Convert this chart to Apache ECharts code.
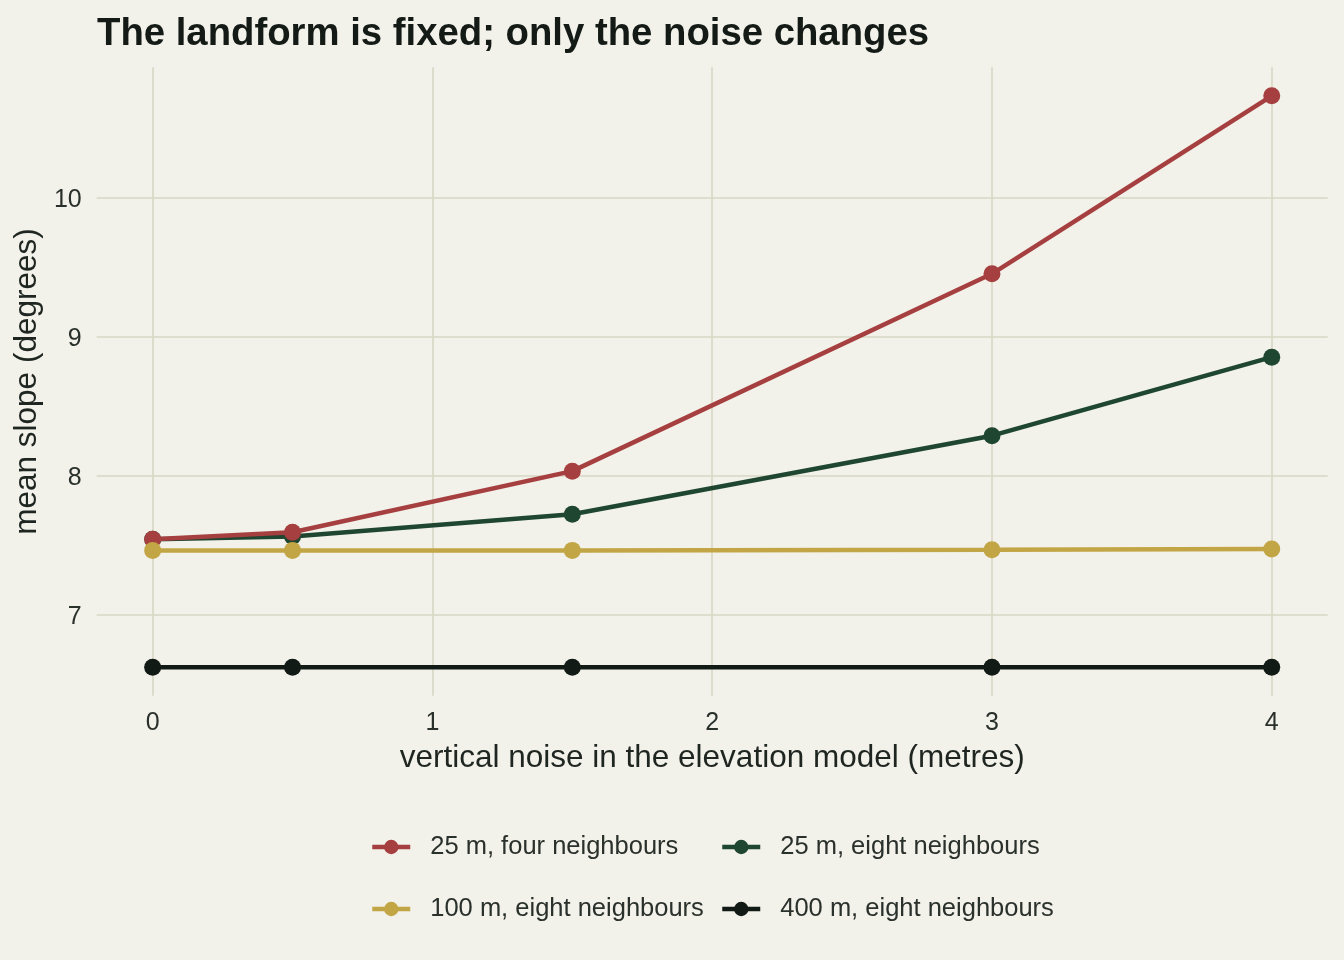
<!DOCTYPE html>
<html>
<head>
<meta charset="utf-8">
<script src="https://cdn.jsdelivr.net/npm/echarts@6/dist/echarts.min.js"></script>
<style>
  html, body { margin: 0; padding: 0; background: #f2f1ea; }
  #chart { width: 1344px; height: 960px; }
</style>
</head>
<body>
<div id="chart"></div>
<script>
// noise levels (metres) on the x axis
const noise = [0, 0.5, 1.5, 3, 4];

// mean slope (degrees) per DEM setup
const m25Four = [7.54, 7.59, 8.03, 9.45, 10.73];
const m25Eight = [7.54, 7.56, 7.72, 8.285, 8.85];
const m100Eight = [7.46, 7.46, 7.46, 7.465, 7.47];
const m400Eight = [6.62, 6.62, 6.62, 6.62, 6.62];

const seriesNames = [
    '25 m, four neighbours',
    '25 m, eight neighbours',
    '100 m, eight neighbours',
    '400 m, eight neighbours'
];

const xTicks = [0, 1, 2, 3, 4];
const yTicks = [7, 8, 9, 10];

const colors = ['#a63f3f', '#1e4630', '#c2a645', '#111a14'];
const gridColor = '#d7d7c4';
const textDark = '#2a302b';

const pairs = vals => noise.map((x, i) => [x, vals[i]]);

const mkSeries = (name, vals, color, z) => ({
    name: name,
    type: 'line',
    data: pairs(vals),
    symbol: 'circle',
    symbolSize: 17,
    z: z,
    itemStyle: { color: color },
    lineStyle: { color: color, width: 4.5 },
    emphasis: { disabled: true },
    animation: false
});

const chart = echarts.init(document.getElementById('chart'));

const legendBase = {
    orient: 'vertical',
    top: 832,
    padding: 0,
    itemWidth: 38,
    itemHeight: 18,
    itemGap: 32,
    selectedMode: false,
    lineStyle: { width: 4.5 },
    textStyle: {
        fontFamily: 'Liberation Sans',
        fontSize: 25.5,
        color: textDark,
        lineHeight: 30,
        padding: [0, 0, 0, 15]
    }
};

chart.setOption({
    backgroundColor: '#f2f1ea',
    title: {
        text: 'The landform is fixed; only the noise changes',
        left: 97,
        top: 15,
        padding: 0,
        textStyle: {
            fontFamily: 'Liberation Sans',
            fontWeight: 'bold',
            fontSize: 38.3,
            color: '#141b16'
        }
    },
    legend: [
        Object.assign({}, legendBase, { left: 370, data: [seriesNames[0], seriesNames[2]] }),
        Object.assign({}, legendBase, { left: 720, data: [seriesNames[1], seriesNames[3]] })
    ],
    grid: { left: 96.7, right: 16.3, top: 67.3, bottom: 264.3, containLabel: false },
    xAxis: {
        type: 'value',
        min: -0.2,
        max: 4.2,
        name: 'vertical noise in the elevation model (metres)',
        nameLocation: 'middle',
        nameGap: 47,
        nameTextStyle: { fontFamily: 'Liberation Sans', fontSize: 31.5, color: '#1f2621' },
        axisLine: { show: false },
        axisTick: { show: false, customValues: xTicks },
        axisLabel: {
            customValues: xTicks,
            margin: 15,
            fontFamily: 'Liberation Sans',
            fontSize: 25,
            color: textDark
        },
        splitLine: { show: true, lineStyle: { color: gridColor, width: 1.6 } }
    },
    yAxis: {
        type: 'value',
        min: 6.4145,
        max: 10.9355,
        name: 'mean slope (degrees)',
        nameLocation: 'middle',
        nameGap: 46,
        nameTextStyle: { fontFamily: 'Liberation Sans', fontSize: 31.5, color: '#1f2621' },
        axisLine: { show: false },
        axisTick: { show: false, customValues: yTicks },
        axisLabel: {
            customValues: yTicks,
            margin: 15,
            formatter: '{v|{value}}',
            rich: {
                v: {
                    fontFamily: 'Liberation Sans',
                    fontSize: 25,
                    color: textDark,
                    padding: [6, 0, 0, 0]
                }
            }
        },
        splitLine: { show: true, lineStyle: { color: gridColor, width: 1.6 } }
    },
    series: [
        mkSeries(seriesNames[1], m25Eight, colors[1], 2),
        mkSeries(seriesNames[0], m25Four, colors[0], 3),
        mkSeries(seriesNames[2], m100Eight, colors[2], 4),
        mkSeries(seriesNames[3], m400Eight, colors[3], 5)
    ]
});
</script>
</body>
</html>
